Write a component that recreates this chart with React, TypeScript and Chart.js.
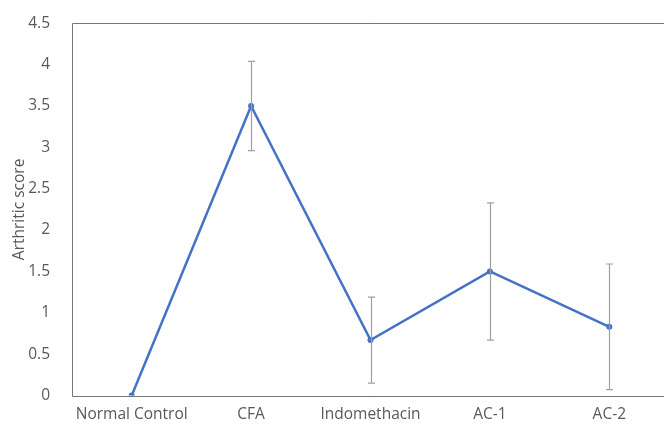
import React, { useEffect, useRef } from "react";
import { Chart, registerables } from "chart.js";

Chart.register(...registerables);

const categories = ["Normal Control", "CFA", "Indomethacin", "AC-1", "AC-2"];
const scores = [0, 3.5, 0.67, 1.5, 0.83];
const errors = [0, 0.54, 0.52, 0.83, 0.76];
const yTicks = [0, 0.5, 1, 1.5, 2, 2.5, 3, 3.5, 4, 4.5];

const FONT = "'Open Sans', Lato, sans-serif";
const TEXT = "#595959";

const errorBarPlugin = {
  id: "errorBars",
  beforeDatasetsDraw(chart: any) {
    const { ctx, chartArea } = chart;
    ctx.save();
    ctx.strokeStyle = "#767676";
    ctx.lineWidth = 1;
    ctx.beginPath();
    const l = Math.round(chartArea.left) + 0.5;
    const t = Math.round(chartArea.top) + 0.5;
    const b = Math.round(chartArea.bottom) + 0.5;
    const r = chartArea.right;
    ctx.moveTo(r, t);
    ctx.lineTo(l, t);
    ctx.lineTo(l, b);
    ctx.lineTo(r, b);
    ctx.stroke();
    ctx.restore();
  },
  afterDatasetsDraw(chart: any) {
    const { ctx, scales } = chart;
    const x = scales.x;
    const y = scales.y;
    ctx.save();
    ctx.strokeStyle = "#a0a0a0";
    ctx.lineWidth = 1.2;
    scores.forEach((v, i) => {
      const e = errors[i];
      if (!e) return;
      const px = Math.round(x.getPixelForValue(i)) + 0.5;
      const top = y.getPixelForValue(v + e);
      const bot = y.getPixelForValue(v - e);
      ctx.beginPath();
      ctx.moveTo(px, top);
      ctx.lineTo(px, bot);
      ctx.moveTo(px - 3.5, top);
      ctx.lineTo(px + 3.5, top);
      ctx.moveTo(px - 3.5, bot);
      ctx.lineTo(px + 3.5, bot);
      ctx.stroke();
    });
    ctx.restore();
  },
};

export default function App() {
  const ref = useRef<HTMLCanvasElement | null>(null);

  useEffect(() => {
    if (!ref.current) return;
    const chart = new Chart(ref.current, {
      type: "line",
      data: {
        labels: categories,
        datasets: [
          {
            data: scores,
            borderColor: "#4472C4",
            backgroundColor: "#4472C4",
            borderWidth: 2.5,
            pointRadius: 3,
            pointBorderWidth: 0,
            tension: 0,
          },
        ],
      },
      options: {
        animation: false,
        responsive: false,
        layout: { padding: { top: 21, right: 11, left: 0, bottom: 0 } },
        plugins: { legend: { display: false }, tooltip: { enabled: false } },
        scales: {
          x: {
            offset: true,
            grid: { display: false },
            border: { display: false },
            ticks: { color: TEXT, font: { family: FONT, size: 15.5 }, padding: 2, maxRotation: 0, autoSkip: false },
            afterFit: (s: any) => {
              s.height = 30.5;
            },
          },
          y: {
            min: 0,
            max: 4.5,
            grid: { display: false },
            border: { display: false },
            afterBuildTicks: (s: any) => {
              s.ticks = yTicks.map((v) => ({ value: v }));
            },
            ticks: {
              color: TEXT,
              font: { family: FONT, size: 15.5 },
              padding: 14,
              callback: (v: any) => String(v),
            },
            title: {
              display: true,
              text: "Arthritic score",
              color: TEXT,
              font: { family: FONT, size: 15.5 },
              padding: { top: 10, bottom: 0 },
            },
            afterFit: (s: any) => {
              s.width = 72;
            },
          },
        },
      },
      plugins: [errorBarPlugin],
    });
    return () => chart.destroy();
  }, []);

  return (
    <div
      style={{
        position: "fixed",
        left: 0,
        top: 0,
        width: 664,
        height: 426,
        overflow: "hidden",
        background: "#fff",
      }}
    >
      <canvas ref={ref} width={680} height={426} style={{ display: "block" }} />
    </div>
  );
}
